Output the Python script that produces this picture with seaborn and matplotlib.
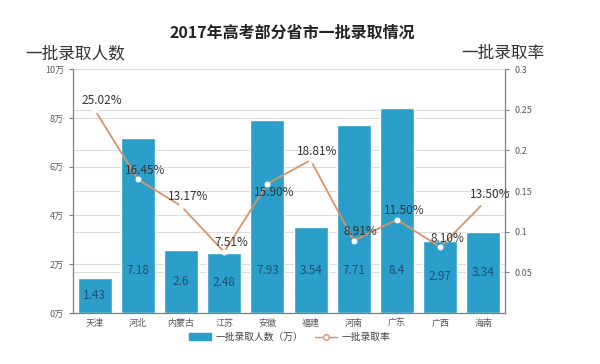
import pandas as pd
import matplotlib
matplotlib.use("Agg")
import matplotlib.pyplot as plt
import seaborn as sns
from matplotlib.patches import Patch
from matplotlib.lines import Line2D
from matplotlib.ticker import FixedLocator

# data
provinces = ["天津", "河北", "内蒙古", "江苏", "安徽", "福建", "河南", "广东", "广西", "海南"]
admitted = [1.43, 7.18, 2.6, 2.48, 7.93, 3.54, 7.71, 8.4, 2.97, 3.34]  # 万人
rate = [0.2502, 0.1645, 0.1317, 0.0751, 0.1590, 0.1881, 0.0891, 0.1150, 0.0810, 0.1350]
rate_labels = ["25.02%", "16.45%", "13.17%", "7.51%", "15.90%", "18.81%", "8.91%", "11.50%", "8.10%", "13.50%"]
left_ticks = [0, 2, 4, 6, 8, 10]
left_tick_labels = ["0万", "2万", "4万", "6万", "8万", "10万"]
right_ticks = [0.05, 0.1, 0.15, 0.2, 0.25, 0.3]
right_tick_labels = ["0.05", "0.1", "0.15", "0.2", "0.25", "0.3"]

df = pd.DataFrame({"province": provinces, "admitted": admitted, "rate": rate})

sns.set_style("white")
plt.rcParams["font.family"] = ["Noto Sans CJK SC", "DejaVu Sans"]

bar_color = "#2b9fca"
line_color = "#d9936a"
grid_color = "#dcdcdc"
tick_color = "#595959"
left_max, right_max = 10, 0.3

fig = plt.figure(figsize=(6, 3.64), dpi=100)
ax = fig.add_axes([0.1217, 0.140, 0.72, 0.670])

sns.barplot(data=df, x="province", y="admitted", color=bar_color, saturation=1,
            width=0.79, ax=ax, zorder=2)
ax.set_ylim(0, left_max)
ax.set_xlim(-0.5, len(provinces) - 0.5)
ax.set_yticks(left_ticks)
ax.set_yticklabels(left_tick_labels)
ax.yaxis.grid(True, color=grid_color, lw=0.8, zorder=0)
ax.set_axisbelow(True)
# gridlines of the right axis, drawn behind the bars
for t in right_ticks:
    ax.axhline(t / right_max * left_max, color=grid_color, lw=0.8, zorder=0)
ax.set_xlabel("")
ax.set_ylabel("")

# bar values inside the bars
for i, v in enumerate(admitted):
    ax.text(i, min(v / 2, 1.75), f"{v:g}", ha="center", va="center",
            fontsize=8.5, color="#1d4f76", zorder=5)

ax2 = ax.twinx()
sns.lineplot(data=df, x="province", y="rate", color=line_color, lw=1.3,
             marker="o", markersize=3.5, markerfacecolor="white",
             markeredgecolor="white", ax=ax2, zorder=4)
ax2.set_ylim(0, right_max)
ax2.set_yticks(right_ticks)
ax2.set_yticklabels(right_tick_labels)
ax2.set_ylabel("")
ax2.set_xlabel("")

for i, (r, lab) in enumerate(zip(rate, rate_labels)):
    dy = -9 if lab == "15.90%" else 9
    ax2.annotate(lab, (i, r), xytext=(7, dy), textcoords="offset pixels",
                 ha="center", va="center", fontsize=8.5, color="#333333", zorder=6)

# axes styling
for a in (ax, ax2):
    a.spines["top"].set_visible(False)
    for s in ("left", "right", "bottom"):
        a.spines[s].set_color("#7f7f7f")
        a.spines[s].set_linewidth(0.9)
    a.tick_params(axis="y", labelsize=6.5, labelcolor=tick_color, color="#7f7f7f",
                  length=3, width=0.8)
ax.spines["right"].set_visible(False)
ax2.spines["left"].set_visible(False)
ax2.spines["bottom"].set_visible(False)

ax.tick_params(axis="x", labelsize=6.5, labelcolor=tick_color, length=0, pad=4)
ax.xaxis.set_minor_locator(FixedLocator([i + 0.5 for i in range(len(provinces) - 1)]))
ax.tick_params(axis="x", which="minor", length=3, color="#b07050", width=0.8)

# titles
fig.text(0.487, 0.91, "2017年高考部分省市一批录取情况", ha="center", va="center",
         fontsize=11.5, fontweight="bold", color="#222222")
fig.text(0.042, 0.853, "一批录取人数", ha="left", va="center", fontsize=12, color="#333333")
fig.text(0.908, 0.853, "一批录取率", ha="right", va="center", fontsize=12, color="#333333")

handles = [Patch(facecolor=bar_color, edgecolor=bar_color),
           Line2D([0], [0], color=line_color, lw=1, marker="o", markersize=4,
                  markerfacecolor="white", markeredgecolor=line_color)]
fig.legend(handles, ["一批录取人数（万）", "一批录取率"], loc="center",
           bbox_to_anchor=(0.483, 0.074), ncol=2, frameon=False, fontsize=7,
           labelcolor="#404040", handlelength=2.2, columnspacing=1.2, handletextpad=0.5)

fig.savefig("out.png", dpi=100)
